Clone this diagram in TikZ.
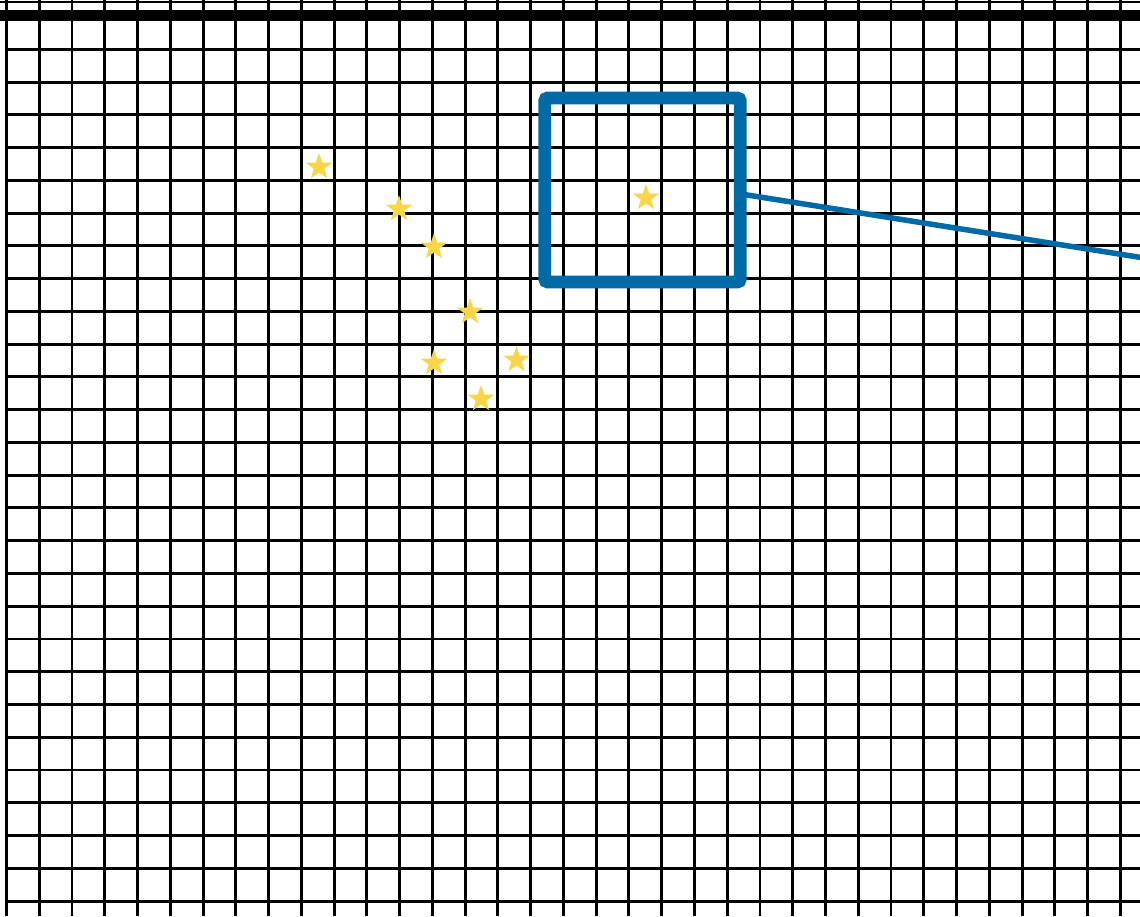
\documentclass[tikz,border=0pt]{standalone}
\usetikzlibrary{shapes.geometric}
\definecolor{gridblack}{RGB}{0,0,0}
\definecolor{boxblue}{RGB}{0,106,167}
\definecolor{staryellow}{RGB}{249,213,72}
\tikzset{
  gridline/.style={draw=gridblack, line width=2.9pt},
  topband/.style={draw=black, line width=11pt},
  topthin/.style={draw=black, line width=2.4pt},
  starmark/.style={star, star points=5, star point ratio=2.5, fill=staryellow, draw=none, inner sep=0pt, minimum size=27.5pt},
  focusbox/.style={draw=boxblue, line width=12.7pt, rounded corners=3pt, inner sep=0pt, minimum width=195.6pt, minimum height=184pt},
  leader/.style={draw=boxblue, line width=5.5pt}
}
\begin{document}
\begin{tikzpicture}[x=1pt, y=-1pt]
\useasboundingbox (0,0) rectangle (1140,916);
\fill[white] (0,0) rectangle (1140,916);
\begin{scope}
\clip (0,0) rectangle (1140,916);
% vertical grid lines
\foreach \k in {0,...,34} {
  \draw[gridline] ({6.5+32.76*\k},0) -- ({6.5+32.76*\k},916);
}
% horizontal grid lines
\foreach \k in {0,...,26} {
  \draw[gridline] (6.5,{49.3+32.76*\k}) -- (1140,{49.3+32.76*\k});
}
% top border
\draw[topthin] (0,2) -- (1140,2);
\draw[topband] (0,15) -- (1140,15);
% stars
\node[starmark] (s1) at (319,167) {};
\node[starmark] (s2) at (399,209) {};
\node[starmark] (s3) at (434,247) {};
\node[starmark] (s4) at (470,312) {};
\node[starmark] (s5) at (434,363) {};
\node[starmark] (s6) at (516.5,360) {};
\node[starmark] (s7) at (481,399) {};
\node[starmark] (s8) at (646,198) {};
% focus box
\node[focusbox] (box) at (642.5,190) {};
\coordinate (ls) at (741,194);
\coordinate (le) at (1160,260.5);
\draw[leader] (ls) -- (le);
\end{scope}
\end{tikzpicture}
\end{document}
